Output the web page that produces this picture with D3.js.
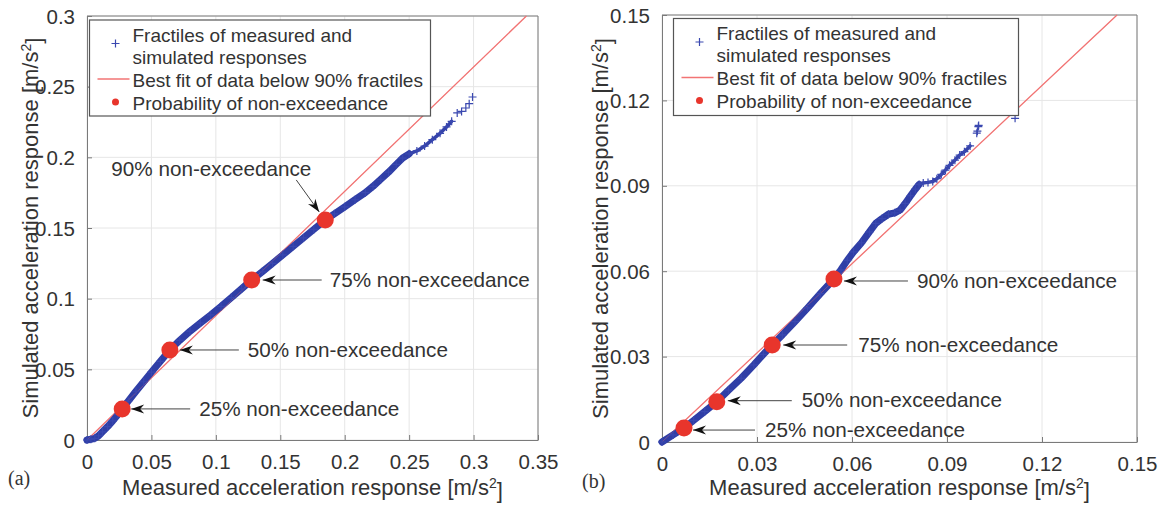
<!DOCTYPE html>
<html>
<head>
<meta charset="utf-8">
<script src="https://cdn.jsdelivr.net/npm/d3@7"></script>
<style>
  body { margin: 0; background: #fff; }
  svg text { font-family: "Liberation Sans", Arial, sans-serif; fill: #333; }
</style>
</head>
<body>
<svg id="chart" width="1161" height="510"></svg>
<script>
// ---- data ----
const xTicksA = [0, 0.05, 0.1, 0.15, 0.2, 0.25, 0.3, 0.35];
const xTickLabelsA = ["0", "0.05", "0.1", "0.15", "0.2", "0.25", "0.3", "0.35"];
const yTicksA = [0, 0.05, 0.1, 0.15, 0.2, 0.25, 0.3];
const yTickLabelsA = ["0", "0.05", "0.1", "0.15", "0.2", "0.25", "0.3"];
const ticksB = [0, 0.03, 0.06, 0.09, 0.12, 0.15];
const tickLabelsB = ["0", "0.03", "0.06", "0.09", "0.12", "0.15"];

// (a) fractiles: measured vs simulated
const measuredA = [0, 0.003, 0.006, 0.009, 0.012, 0.016, 0.020, 0.024, 0.0273, 0.032, 0.038, 0.044, 0.050, 0.057,
  0.0643, 0.072, 0.080, 0.088, 0.096, 0.104, 0.112, 0.120, 0.1278, 0.136, 0.144, 0.152, 0.160, 0.168, 0.176,
  0.1849, 0.192, 0.200, 0.208, 0.216, 0.222, 0.228, 0.234, 0.240, 0.245, 0.250, 0.256, 0.262, 0.268, 0.274,
  0.279, 0.283, 0.2873, 0.2907, 0.294, 0.2966, 0.2992];
const simulatedA = [0, 0.0005, 0.0012, 0.003, 0.0058, 0.0095, 0.0135, 0.018, 0.022, 0.0275, 0.0345, 0.0412, 0.048, 0.0557,
  0.0637, 0.0705, 0.077, 0.0828, 0.0885, 0.0945, 0.1008, 0.107, 0.1132, 0.119, 0.125, 0.131, 0.137, 0.143, 0.149,
  0.1557, 0.160, 0.165, 0.170, 0.175, 0.1795, 0.1845, 0.1895, 0.195, 0.1995, 0.2025, 0.2045, 0.208, 0.2125, 0.217,
  0.2215, 0.2255, 0.2314, 0.2325, 0.2349, 0.238, 0.2427];
const fitMeasuredA = [0, 0.341];
const fitSimulatedA = [0, 0.3];
const levelMeasuredA = [0.0273, 0.0643, 0.1278, 0.1849];
const levelSimulatedA = [0.022, 0.0637, 0.1132, 0.1557];

// (b)
const measuredB = [0, 0.0035, 0.00695, 0.010, 0.0135, 0.0173, 0.021, 0.025, 0.029, 0.032, 0.0348, 0.038, 0.042,
  0.046, 0.050, 0.0543, 0.0565, 0.0585, 0.0605, 0.063, 0.0655, 0.0675, 0.0695, 0.0715, 0.0735, 0.0752, 0.0768,
  0.0785, 0.080, 0.0812, 0.0825, 0.084, 0.0855, 0.0868, 0.0882, 0.0895, 0.0908, 0.0925, 0.094, 0.0955, 0.0973,
  0.0994, 0.0996, 0.0999, 0.1000, 0.1115];
const simulatedB = [0, 0.0025, 0.0049, 0.0076, 0.0107, 0.01416, 0.0182, 0.0224, 0.0271, 0.0308, 0.03407, 0.0376, 0.0423,
  0.0471, 0.0521, 0.05726, 0.0605, 0.0638, 0.0668, 0.070, 0.0738, 0.0768, 0.0785, 0.0800, 0.0805, 0.0815, 0.0838,
  0.0865, 0.0888, 0.0905, 0.091, 0.0912, 0.0915, 0.0925, 0.094, 0.0955, 0.0972, 0.099, 0.1008, 0.102, 0.104,
  0.1085, 0.1092, 0.1108, 0.1112, 0.1137];
const fitMeasuredB = [0, 0.1437];
const fitSimulatedB = [0, 0.15];
const levelMeasuredB = [0.00695, 0.0173, 0.0348, 0.0543];
const levelSimulatedB = [0.0049, 0.01416, 0.03407, 0.05726];

const levelNames = ["25%", "50%", "75%", "90%"];
const legendLabels = [["Fractiles of measured and", "simulated responses"],
  ["Best fit of data below 90% fractiles"], ["Probability of non-exceedance"]];

// ---- layout ----
const panels = [
  {
    tag: "(a)", m: measuredA, s: simulatedA, fm: fitMeasuredA, fs: fitSimulatedA,
    lm: levelMeasuredA, ls: levelSimulatedA,
    xTicks: xTicksA, xLabels: xTickLabelsA, yTicks: yTicksA, yLabels: yTickLabelsA,
    xMax: 0.35, yMax: 0.3, denseTo: 0.25, thinTo: 0.284,
    box: { l: 87, r: 538, t: 16, b: 440 },
    legend: { x: 89.5, y: 20, w: 341, h: 96 },
    ylabX: 30, tagX: 8, tagY: 478,
    notes: [
      { tip: [9, 0], tail: [68, 0], txt: [77, 0] },
      { tip: [10, 0], tail: [69, 0], txt: [78, 0] },
      { tip: [11, 0], tail: [70, 0], txt: [78, 0] },
      { tip: [-6, -8], tail: [-29, -40], txt: [-214, -51] }
    ]
  },
  {
    tag: "(b)", m: measuredB, s: simulatedB, fm: fitMeasuredB, fs: fitSimulatedB,
    lm: levelMeasuredB, ls: levelSimulatedB,
    xTicks: ticksB, xLabels: tickLabelsB, yTicks: ticksB, yLabels: tickLabelsB,
    xMax: 0.15, yMax: 0.15, denseTo: 0.0812, thinTo: 0.0975,
    box: { l: 662, r: 1137, t: 15, b: 442 },
    legend: { x: 673.5, y: 18.5, w: 345, h: 97 },
    ylabX: 600, tagX: 582, tagY: 481,
    notes: [
      { tip: [9, 2], tail: [71, 2], txt: [81, 2] },
      { tip: [11, -1], tail: [75, -1], txt: [85, -2] },
      { tip: [11, 0], tail: [75, 0], txt: [86, 0] },
      { tip: [10, 2], tail: [74, 2], txt: [83, 2] }
    ]
  }
];

const blue = "#2f3ea6";
const red = "#e8352c";
const fitRed = "#f27474";

const svg = d3.select("#chart");

// arrow head
svg.append("defs").append("marker")
  .attr("id", "head")
  .attr("viewBox", "-14 -6 16 12")
  .attr("markerUnits", "userSpaceOnUse")
  .attr("markerWidth", 16).attr("markerHeight", 12)
  .attr("refX", 0).attr("refY", 0)
  .attr("orient", "auto")
  .append("path")
  .attr("d", "M0,0 L-13,-4.5 L-9,0 L-13,4.5 Z")
  .attr("fill", "#111");

panels.forEach(p => {
  const x = d3.scaleLinear().domain([0, p.xMax]).range([p.box.l, p.box.r]);
  const y = d3.scaleLinear().domain([0, p.yMax]).range([p.box.b, p.box.t]);
  const g = svg.append("g");

  // grid
  g.selectAll(".gx").data(p.xTicks).enter().append("line")
    .attr("x1", d => x(d)).attr("x2", d => x(d))
    .attr("y1", p.box.t).attr("y2", p.box.b)
    .attr("stroke", "#e6e6e6").attr("stroke-width", 1);
  g.selectAll(".gy").data(p.yTicks).enter().append("line")
    .attr("y1", d => y(d)).attr("y2", d => y(d))
    .attr("x1", p.box.l).attr("x2", p.box.r)
    .attr("stroke", "#e6e6e6").attr("stroke-width", 1);

  // axes
  const xAxis = d3.axisBottom(x).tickValues(p.xTicks).tickFormat((d, i) => p.xLabels[i]).tickSizeInner(-5).tickSizeOuter(0).tickPadding(14);
  const yAxis = d3.axisLeft(y).tickValues(p.yTicks).tickFormat((d, i) => p.yLabels[i]).tickSizeInner(-5).tickSizeOuter(0).tickPadding(12);
  const gx = g.append("g").attr("transform", `translate(0,${p.box.b})`).call(xAxis);
  const gy = g.append("g").attr("transform", `translate(${p.box.l},0)`).call(yAxis);
  [gx, gy].forEach(a => {
    a.selectAll("path,line").attr("stroke", "#7a7a7a");
    a.selectAll("text").attr("font-size", 20.5).attr("fill", "#333")
      .style("font-family", '"Liberation Sans", Arial, sans-serif');
  });
  gy.selectAll("text").attr("dy", "0.35em");
  // box top/right
  g.append("line").attr("x1", p.box.l).attr("x2", p.box.r).attr("y1", p.box.t).attr("y2", p.box.t).attr("stroke", "#7a7a7a");
  g.append("line").attr("x1", p.box.r).attr("x2", p.box.r).attr("y1", p.box.t).attr("y2", p.box.b).attr("stroke", "#7a7a7a");

  // fit line
  const pts = p.m.map((d, i) => [d, p.s[i]]);
  const fit = p.fm.map((d, i) => [d, p.fs[i]]);
  const line = d3.line().x(d => x(d[0])).y(d => y(d[1]));
  g.append("path").attr("d", line(fit)).attr("fill", "none").attr("stroke", fitRed).attr("stroke-width", 1.3);

  // dense band of fractiles, then a thinner run of overlapping markers
  g.append("path").attr("d", line(pts.filter(d => d[0] <= p.denseTo)))
    .attr("fill", "none").attr("stroke", blue).attr("stroke-width", 7)
    .attr("stroke-linejoin", "round").attr("stroke-linecap", "round");
  g.append("path").attr("d", line(pts.filter(d => d[0] >= p.denseTo - 0.001 && d[0] <= p.thinTo)))
    .attr("fill", "none").attr("stroke", "#3543aa").attr("stroke-width", 3.5)
    .attr("stroke-linejoin", "round").attr("stroke-linecap", "round");
  // fit line faintly visible across band edges
  g.append("path").attr("d", line(fit)).attr("fill", "none").attr("stroke", fitRed).attr("stroke-width", 1).attr("opacity", 0.35);

  // + markers
  g.selectAll(".pm").data(pts).enter().append("path")
    .attr("d", d => `M${x(d[0]) - 4},${y(d[1])}h8M${x(d[0])},${y(d[1]) - 4}v8`)
    .attr("stroke", "#3a48b0").attr("stroke-width", 1.2);

  // probability dots
  const lv = p.lm.map((d, i) => [d, p.ls[i]]);
  g.selectAll(".dot").data(lv).enter().append("circle")
    .attr("cx", d => x(d[0])).attr("cy", d => y(d[1])).attr("r", 8.5)
    .attr("fill", red);

  // annotations
  lv.forEach((d, i) => {
    const cx = x(d[0]), cy = y(d[1]), n = p.notes[i];
    g.append("line")
      .attr("x1", cx + n.tail[0]).attr("y1", cy + n.tail[1])
      .attr("x2", cx + n.tip[0]).attr("y2", cy + n.tip[1])
      .attr("stroke", "#444").attr("stroke-width", 1)
      .attr("marker-end", "url(#head)");
    g.append("text")
      .attr("x", cx + n.txt[0]).attr("y", cy + n.txt[1])
      .attr("dy", "0.35em").attr("font-size", 20.7)
      .text(levelNames[i] + " non-exceedance");
  });

  // legend
  const L = p.legend;
  const lg = g.append("g").attr("transform", `translate(${L.x},${L.y})`);
  lg.append("rect").attr("width", L.w).attr("height", L.h)
    .attr("fill", "#fff").attr("stroke", "#555").attr("stroke-width", 1.2);
  const tx = 43;
  lg.append("path").attr("d", "M22,23.5h8M26,19.5v8").attr("stroke", "#3a48b0").attr("stroke-width", 1.2);
  legendLabels[0].forEach((t, j) => lg.append("text").attr("x", tx).attr("y", 15 + j * 22).attr("dy", "0.35em").attr("font-size", 19).text(t));
  lg.append("line").attr("x1", 8).attr("x2", 40).attr("y1", 59).attr("y2", 59).attr("stroke", fitRed).attr("stroke-width", 1.3);
  lg.append("text").attr("x", tx).attr("y", 60).attr("dy", "0.35em").attr("font-size", 19).text(legendLabels[1][0]);
  lg.append("circle").attr("cx", 26).attr("cy", 82).attr("r", 3.5).attr("fill", red);
  lg.append("text").attr("x", tx).attr("y", 83).attr("dy", "0.35em").attr("font-size", 19).text(legendLabels[2][0]);

  // axis titles
  const xt = g.append("text").attr("x", (p.box.l + p.box.r) / 2).attr("y", 487).attr("dy", "0.35em")
    .attr("text-anchor", "middle").attr("font-size", 22);
  xt.append("tspan").text("Measured acceleration response [m/s");
  xt.append("tspan").attr("dy", "-0.45em").attr("font-size", 14).text("2");
  xt.append("tspan").attr("dy", "0.45em").text("]");

  const yt = g.append("text").attr("transform", `translate(${p.ylabX},${(p.box.t + p.box.b) / 2}) rotate(-90)`)
    .attr("dy", "0.35em").attr("text-anchor", "middle").attr("font-size", 22);
  yt.append("tspan").text("Simulated acceleration response [m/s");
  yt.append("tspan").attr("dy", "-0.45em").attr("font-size", 14).text("2");
  yt.append("tspan").attr("dy", "0.45em").text("]");

  // panel tag
  g.append("text").attr("x", p.tagX).attr("y", p.tagY).attr("dy", "0.35em")
    .attr("font-size", 20).style("font-family", '"Liberation Serif", "Times New Roman", serif')
    .attr("fill", "#222").text(p.tag);
});
</script>
</body>
</html>
